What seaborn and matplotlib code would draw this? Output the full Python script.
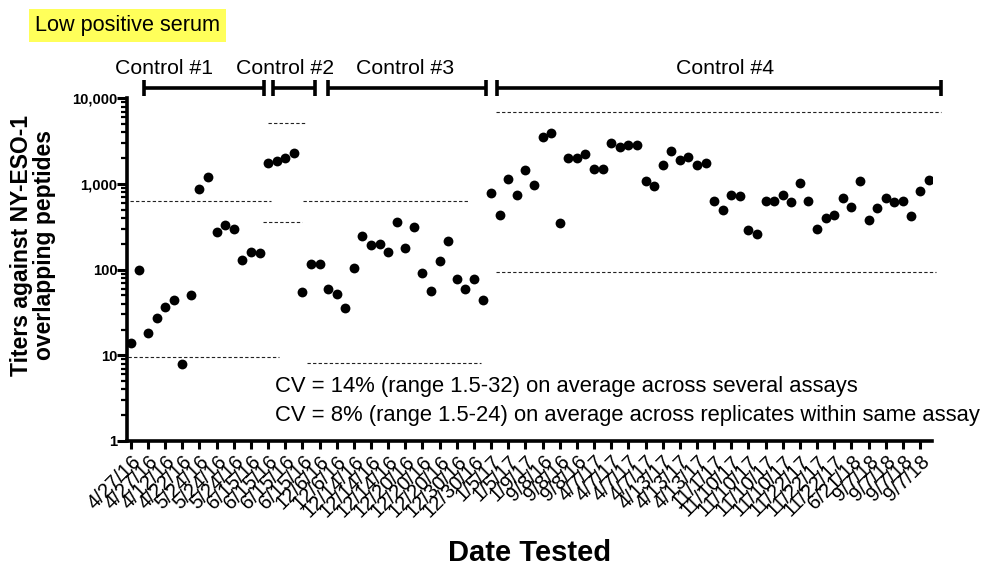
import matplotlib
matplotlib.use("Agg")
import matplotlib.pyplot as plt
import matplotlib.transforms as mtransforms
from matplotlib.ticker import LogLocator, FixedLocator, FuncFormatter, NullFormatter
import seaborn as sns
import numpy as np
import pandas as pd

# ---------------- data ----------------
titers = [14, 100, 18, 27, 37, 44, 8, 51, 880, 1200,
          278, 330, 298, 129, 160, 158, 1740, 1850, 2010, 2280,
          55, 115, 117, 59, 52, 36, 104, 249, 196, 201,
          160, 363, 181, 315, 92, 56, 126, 216, 77, 59,
          77, 44, 778, 438, 1143, 750, 1445, 973, 3565, 3900,
          351, 2030, 2030, 2260, 1480, 1510, 3030, 2700, 2850, 2850,
          1075, 940, 1670, 2410, 1920, 2080, 1680, 1770, 638, 493,
          745, 724, 293, 261, 638, 628, 745, 617, 1035, 638,
          296, 398, 431, 681, 540, 1084, 377, 520, 681, 617,
          638, 420, 835, 1113]

date_labels = ["4/27/16", "4/27/16", "4/12/16", "4/22/16", "5/24/16", "5/24/16",
               "5/24/16", "6/15/16", "6/15/16", "6/15/16", "6/15/16", "12/6/16",
               "12/6/16", "12/14/16", "12/14/16", "12/14/16", "12/20/16", "12/20/16",
               "12/20/16", "12/30/16", "12/30/16", "1/5/17", "1/5/17", "1/9/17",
               "9/8/16", "9/8/16", "9/8/16", "4/7/17", "4/7/17", "4/7/17",
               "4/7/17", "4/13/17", "4/13/17", "4/13/17", "11/1/17", "11/10/17",
               "11/10/17", "11/10/17", "11/10/17", "11/22/17", "11/22/17", "11/22/17",
               "6/21/18", "9/7/18", "9/7/18", "9/7/18", "9/7/18"]

control_names = ["Control #1", "Control #2", "Control #3", "Control #4"]
control_upper = [628, 5200, 634, 6860]
control_lower = [9.66, 363, 8.2, 94.8]

cv_lines = ["CV = 14% (range 1.5-32) on average across several assays",
            "CV = 8% (range 1.5-24) on average across replicates within same assay"]

title_text = "Low positive serum"
y_label = "Titers against NY-ESO-1\noverlapping peptides"
x_label = "Date Tested"

# ---------------- layout (positions, not data) ----------------
upper_span = [(-0.1, 16.3), (16.0, 20.3), (20.1, 39.4), (42.6, 94.4)]
lower_span = [(-0.3, 17.3), (15.4, 19.9), (20.5, 40.8), (42.6, 93.9)]
bracket_span = [(1.5, 15.5), (16.6, 21.5), (23.0, 41.4), (42.7, 94.4)]
label_center = [3.9, 18.0, 32.0, 69.3]

sns.set_style("ticks")
plt.rcParams["font.family"] = ["Liberation Sans", "DejaVu Sans"]
for key in ("text.color", "axes.labelcolor", "xtick.color", "ytick.color",
            "axes.edgecolor"):
    plt.rcParams[key] = "black"

fig = plt.figure(figsize=(9.84, 5.69), dpi=100)
ax = fig.add_axes([127 / 984, 1 - 441 / 569, (932 - 127) / 984, (441 - 98.3) / 569])

df = pd.DataFrame({"idx": np.arange(len(titers)), "titer": titers})
sns.scatterplot(data=df, x="idx", y="titer", ax=ax, color="black", s=50,
                edgecolor="black", linewidth=0, zorder=3, legend=False)

ax.set_yscale("log")
ax.set_ylim(1, 10000)
ax.set_xlim(-0.45, 93.4)

# control reference (dashed) lines
for (u, l, us, ls) in zip(control_upper, control_lower, upper_span, lower_span):
    ax.plot(us, [u, u], color="#222222", lw=0.8, ls=(0, (3, 2)), clip_on=False, zorder=2)
    ax.plot(ls, [l, l], color="#222222", lw=0.8, ls=(0, (3, 2)), clip_on=False, zorder=2)

# brackets above plot
trans = mtransforms.blended_transform_factory(ax.transData, ax.transAxes)
for name, (b0, b1), c in zip(control_names, bracket_span, label_center):
    ax.plot([b0, b1], [1.030, 1.030], color="black", lw=2.6, transform=trans,
            clip_on=False, solid_capstyle="butt")
    for bx in (b0, b1):
        ax.plot([bx, bx], [1.008, 1.052], color="black", lw=2.6, transform=trans,
                clip_on=False, solid_capstyle="butt")
    ax.text(c, 1.088, name, transform=trans, ha="center", va="center", fontsize=15.3,
            color="black")

# axes styling
for side in ("top", "right"):
    ax.spines[side].set_visible(False)
for side in ("left", "bottom"):
    ax.spines[side].set_linewidth(2.6)
    ax.spines[side].set_color("black")

ax.yaxis.set_major_locator(FixedLocator([1, 10, 100, 1000, 10000]))
ax.yaxis.set_major_formatter(FuncFormatter(lambda v, p: f"{v:,.0f}"))
ax.yaxis.set_minor_locator(LogLocator(base=10, subs=np.arange(2, 10)))
ax.yaxis.set_minor_formatter(NullFormatter())
ax.tick_params(axis="y", which="major", length=7, width=2.2, labelsize=10.6, pad=0,
               colors="black")
ax.tick_params(axis="y", which="minor", length=4, width=1.6, colors="black")
for lab in ax.get_yticklabels():
    lab.set_fontweight("bold")

tick_pos = np.arange(0, len(titers), 2)
ax.set_xticks(tick_pos)
ax.set_xticklabels(date_labels, rotation=45, ha="right", rotation_mode="anchor",
                   fontsize=14.5)
ax.tick_params(axis="x", which="major", length=6, width=2.2, pad=2, colors="black")
ax.set_xlabel("")
ax.set_ylabel("")

# axis titles
fig.text(33 / 984, 1 - 245 / 569, y_label, rotation=90, ha="center", va="center",
         fontsize=16.5, fontweight="bold", multialignment="center", linespacing=1.05,
         color="black")
fig.text(530 / 984, 1 - 553 / 569, x_label, ha="center", va="center",
         fontsize=21, fontweight="bold", color="black")

# CV annotations
ax.text(0.184, 0.158, cv_lines[0], transform=ax.transAxes, ha="left", va="center",
        fontsize=15.8, color="black")
ax.text(0.184, 0.073, cv_lines[1], transform=ax.transAxes, ha="left", va="center",
        fontsize=15.8, color="black")

# highlighted title
fig.text(35 / 984, 1 - 25.5 / 569, title_text, ha="left", va="center", fontsize=15.6,
         color="black",
         bbox=dict(boxstyle="square,pad=0.28", facecolor="#FFFF5A", edgecolor="none"))

fig.savefig("out.png", dpi=100)
